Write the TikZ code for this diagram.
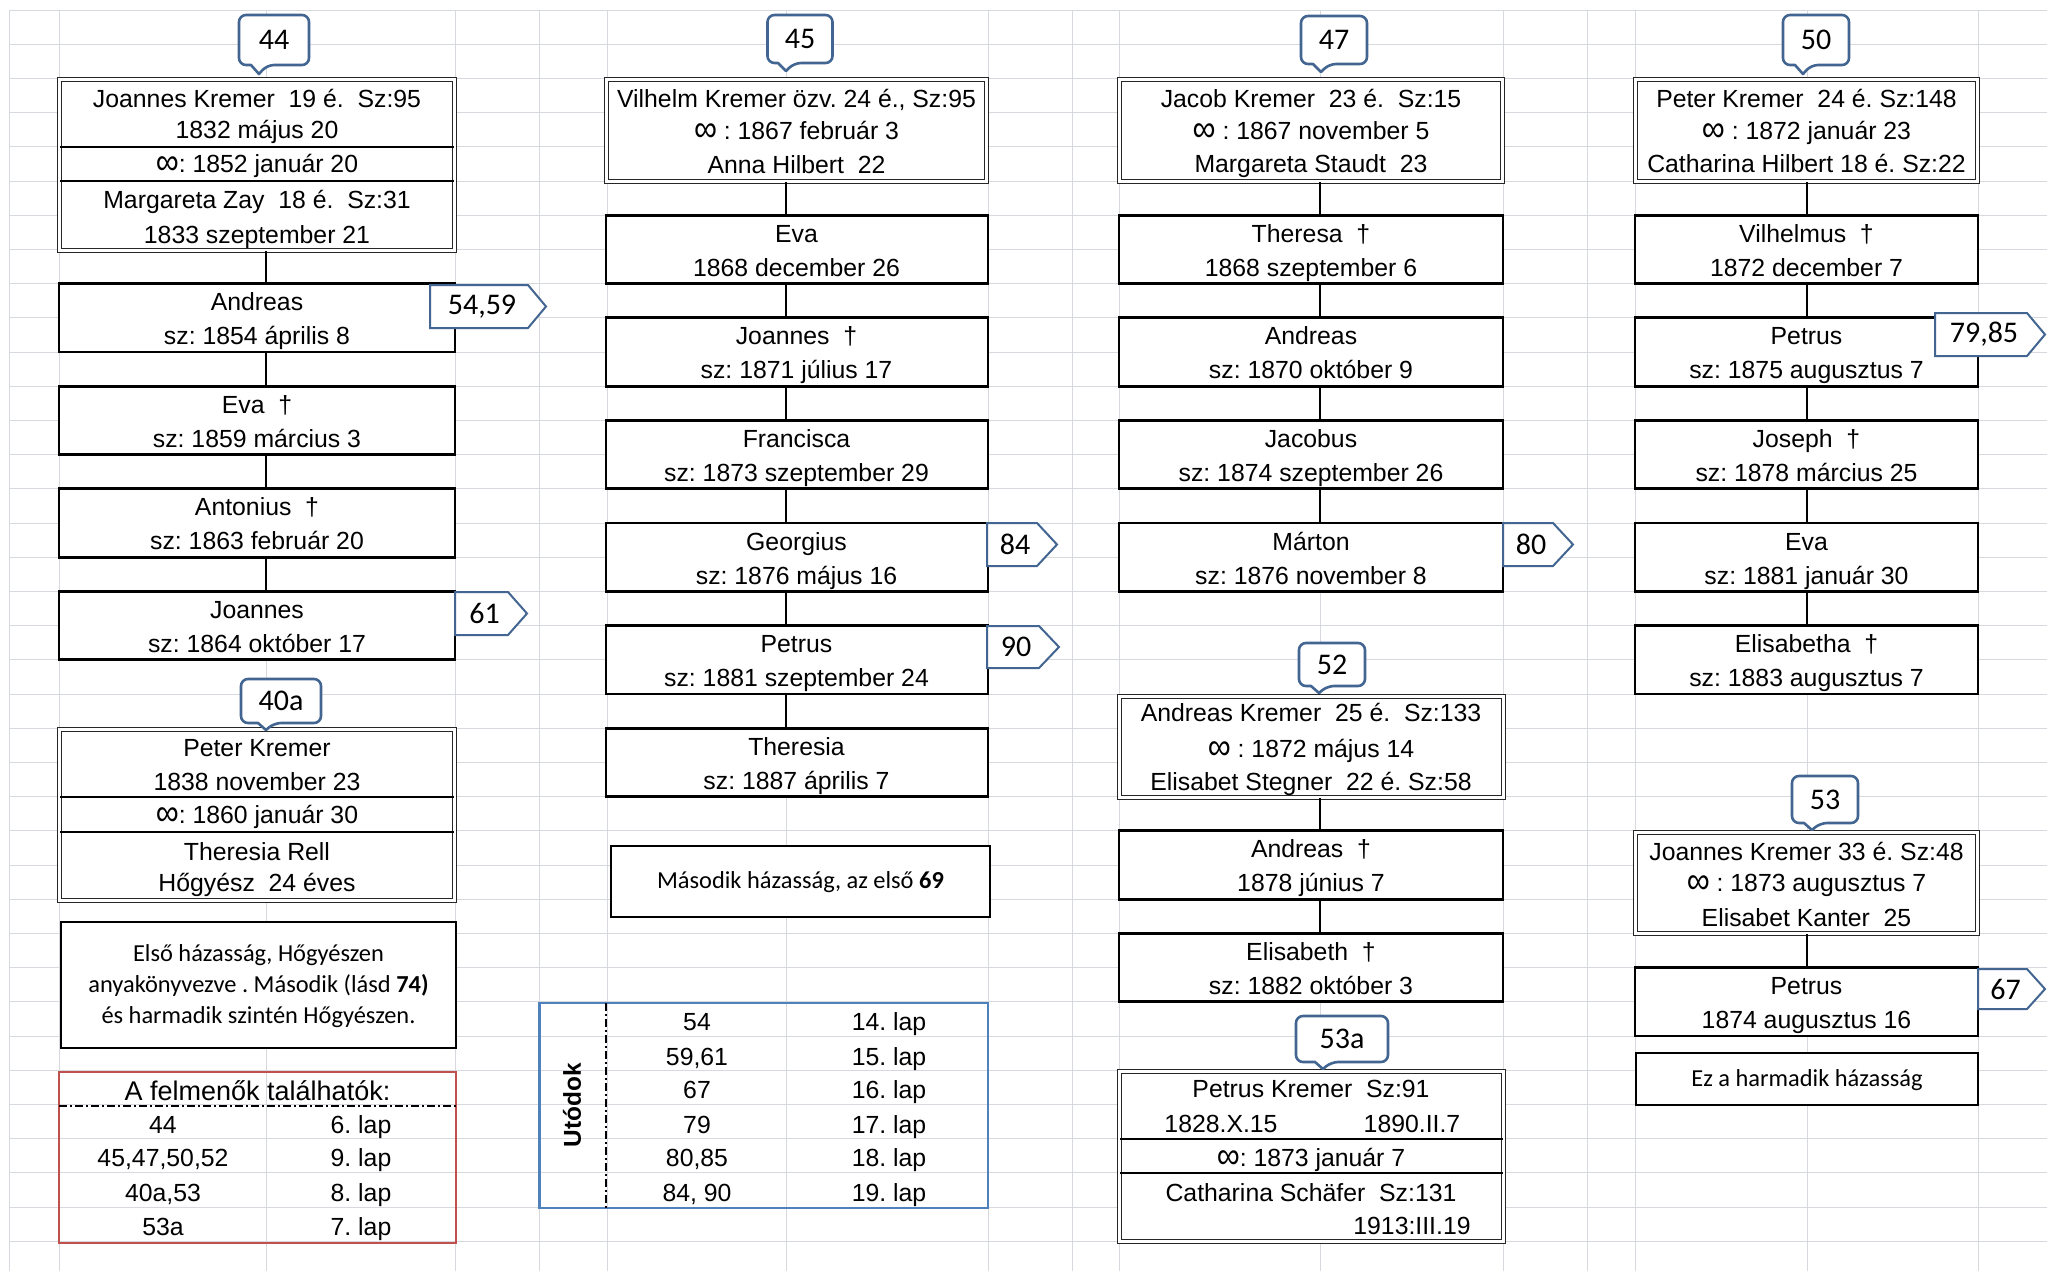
\documentclass[tikz,border=0pt]{standalone}
\usepackage{fontspec}
\usepackage{graphicx}
\setmainfont{Liberation Sans}
\newfontfamily\calfont{Carlito}
\usetikzlibrary{fit}
\definecolor{gridc}{RGB}{214,217,222}
\definecolor{callc}{RGB}{66,101,145}
\definecolor{tabblue}{RGB}{79,129,189}
\definecolor{tabred}{RGB}{192,80,77}
\newcommand\mainsz{\fontsize{12.4}{15}\selectfont}
\newcommand\numsz{\calfont\fontsize{15}{18}\selectfont}
\newcommand\notesz{\calfont\fontsize{12.2}{15.5}\selectfont}
\newcommand\mar{\raisebox{-0.12em}{\scalebox{1.3}[1.5]{∞}}}
\tikzset{
  gridline/.style={draw=gridc, line width=0.5pt},
  kidbox/.style={draw=black, line width=1.4pt, fill=white, inner sep=0pt},
  fambox/.style={draw=black!85, line width=0.5pt, double=white, double distance=1.1pt, fill=white, inner sep=0pt},
  divline/.style={draw=black, line width=1pt},
  conn/.style={draw=black, line width=1.25pt},
  txt/.style={anchor=base, inner sep=0pt, font=\mainsz},
  notebox/.style={draw=black, line width=1.4pt, fill=white, inner sep=0pt},
  notetxt/.style={align=center, inner sep=0pt, font=\notesz},
  callshape/.style={draw=callc, line width=1.3pt, fill=white, line join=round},
  tagshape/.style={draw=callc, line width=1pt, fill=white, line join=miter},
  numtxt/.style={inner sep=0pt, font=\numsz},
  redtab/.style={draw=tabred, line width=1.3pt, inner sep=0pt},
  bluetab/.style={draw=tabblue, line width=1.3pt, inner sep=0pt},
  dashdotline/.style={draw=black, dash pattern=on 4pt off 1.5pt on 1pt off 1.5pt},
}
% child box: name, x1, x2, top, text centre x, line 1, line 2
\newcommand\kid[7]{%
  \node[kidbox, fit={(#2,#4) (#3,#4+68.4)}] (#1) {};
  \node[txt] (#1a) at (#5,#4+27) {#6};
  \node[txt] (#1b) at (#5,#4+61) {#7};
}
% callout bubble: name, x1, y1, x2, y2, tip x, tip y, text
\newcommand\callbubble[8]{%
  \draw[callshape] ({(#2+#4)/2},#3) [rounded corners=3.5pt] -- (#4,#3) -- (#4,#5) -- (#6+8,#5) [sharp corners] -- (#6,#7) -- (#6-8,#5) [rounded corners=3.5pt] -- (#2,#5) -- (#2,#3) -- cycle;
  \node[numtxt] (#1) at ({(#2+#4)/2},{(#3+#5)/2}) {#8};
}
% pentagon tag: name, x1, y1, point start x, tip x, y2, text
\newcommand\tagm[7]{%
  \draw[tagshape] (#2,#3) -- (#4,#3) -- (#5,{(#3+#6)/2}) -- (#4,#6) -- (#2,#6) -- cycle;
  \node[numtxt] (#1) at ({(#2+#4)/2+3},{(#3+#6)/2}) {#7};
}
\begin{document}
\frenchspacing
\begin{tikzpicture}[x=0.5pt,y=-0.5pt]
\useasboundingbox (0,0) rectangle (2047,1271);
\fill[white] (0,0) rectangle (2047,1271);
% spreadsheet grid
\foreach \gx in {9,59,266,455,539,607,786,988,1072,1119,1320,1503,1587,1635,1807,1978}
  \draw[gridline] (\gx,10) -- (\gx,1271);
\foreach \k in {0,...,36}
  \draw[gridline] (9,{10+34.2*\k}) -- (2047,{10+34.2*\k});

\coordinate (xa) at (266,0);
\coordinate (xb) at (786,0);
\coordinate (xc) at (1320,0);
\coordinate (xd) at (1807,0);

% ---------- column 1 ----------
\node[fambox, fit={(59.5,79.5) (454.5,250.5)}] (f44) {};
\draw[divline] (60,147) -- (454,147);
\draw[divline] (60,181) -- (454,181);
\node[txt] (f44a) at (257,107) {Joannes Kremer~ 19 é.~ Sz:95};
\node[txt] (f44b) at (257,138) {1832 május 20};
\node[txt] (f44c) at (257,172) {\mar: 1852 január 20};
\node[txt] (f44d) at (257,208) {Margareta Zay~ 18 é.~ Sz:31};
\node[txt] (f44e) at (257,243) {1833 szeptember 21};
\kid{a1}{59}{455}{283.6}{257}{Andreas}{sz: 1854 április 8}
\kid{a2}{59}{455}{386.2}{257}{Eva~ †}{sz: 1859 március 3}
\kid{a3}{59}{455}{488.8}{257}{Antonius~ †}{sz: 1863 február 20}
\kid{a4}{59}{455}{591.4}{257}{Joannes}{sz: 1864 október 17}
\draw[conn] (f44.south -| xa) -- (a1.north -| xa);
\draw[conn] (a1.south -| xa) -- (a2.north -| xa);
\draw[conn] (a2.south -| xa) -- (a3.north -| xa);
\draw[conn] (a3.south -| xa) -- (a4.north -| xa);

\node[fambox, fit={(59.5,729.5) (454.5,900.5)}] (f40) {};
\draw[divline] (60,797) -- (454,797);
\draw[divline] (60,832) -- (454,832);
\node[txt] (f40a) at (257,756) {Peter Kremer};
\node[txt] (f40b) at (257,790) {1838 november 23};
\node[txt] (f40c) at (257,823) {\mar: 1860 január 30};
\node[txt] (f40d) at (257,860) {Theresia Rell};
\node[txt] (f40e) at (257,891) {Hőgyész~ 24 éves};

\node[notebox, fit={(61,922) (456,1048)}] (n1) {};
\node[notetxt] (n1t) at (258.5,986) {Első házasság, Hőgyészen\\anyakönyvezve . Második (lásd \textbf{74)}\\és harmadik szintén Hőgyészen.};

\node[redtab, fit={(59,1072) (456,1243)}] (ftab) {};
\draw[dashdotline, line width=0.7pt] (59,1106) -- (456,1106);
\node[txt, font=\fontsize{13.5}{16}\selectfont] (fhead) at (257.5,1100) {A felmenők találhatók:};
\node[txt] (fr1a) at (163,1133) {44};
\node[txt] (fr1b) at (361,1133) {6. lap};
\node[txt] (fr2a) at (163,1166) {45,47,50,52};
\node[txt] (fr2b) at (361,1166) {9. lap};
\node[txt] (fr3a) at (163,1201) {40a,53};
\node[txt] (fr3b) at (361,1201) {8. lap};
\node[txt] (fr4a) at (163,1235) {53a};
\node[txt] (fr4b) at (361,1235) {7. lap};

% ---------- column 2 ----------
\node[fambox, fit={(606.5,79.5) (986.5,181.5)}] (f45) {};
\node[txt] (f45a) at (796.5,107) {Vilhelm Kremer özv. 24 é., Sz:95};
\node[txt] (f45b) at (796.5,139) {\mar\ : 1867 február 3};
\node[txt] (f45c) at (796.5,173) {Anna Hilbert~ 22};
\kid{b1}{606}{988}{215.2}{796.5}{Eva}{1868 december 26}
\kid{b2}{606}{988}{317.8}{796.5}{Joannes~ †}{sz: 1871 július 17}
\kid{b3}{606}{988}{420.4}{796.5}{Francisca}{sz: 1873 szeptember 29}
\kid{b4}{606}{988}{523}{796.5}{Georgius}{sz: 1876 május 16}
\kid{b5}{606}{988}{625.6}{796.5}{Petrus}{sz: 1881 szeptember 24}
\kid{b6}{606}{988}{728.2}{796.5}{Theresia}{sz: 1887 április 7}
\draw[conn] (f45.south -| xb) -- (b1.north -| xb);
\draw[conn] (b1.south -| xb) -- (b2.north -| xb);
\draw[conn] (b2.south -| xb) -- (b3.north -| xb);
\draw[conn] (b3.south -| xb) -- (b4.north -| xb);
\draw[conn] (b4.south -| xb) -- (b5.north -| xb);
\draw[conn] (b5.south -| xb) -- (b6.north -| xb);

\node[notebox, fit={(611,846) (990,917)}] (n2) {};
\node[notetxt] (n2t) at (800.5,882) {Második házasság, az első \textbf{69}};

\node[bluetab, fit={(539.6,1003) (988,1208)}] (utab) {};
\draw[dashdotline, line width=1pt] (606,1003) -- (606,1208);
\node[rotate=90, inner sep=0pt, font=\bfseries\fontsize{12.2}{14}\selectfont] (utlab) at (572,1105) {Utódok};
\node[txt] (ur1a) at (697,1030) {54};
\node[txt] (ur1b) at (889,1030) {14. lap};
\node[txt] (ur2a) at (697,1065) {59,61};
\node[txt] (ur2b) at (889,1065) {15. lap};
\node[txt] (ur3a) at (697,1098) {67};
\node[txt] (ur3b) at (889,1098) {16. lap};
\node[txt] (ur4a) at (697,1133) {79};
\node[txt] (ur4b) at (889,1133) {17. lap};
\node[txt] (ur5a) at (697,1166) {80,85};
\node[txt] (ur5b) at (889,1166) {18. lap};
\node[txt] (ur6a) at (697,1201) {84, 90};
\node[txt] (ur6b) at (889,1201) {19. lap};

% ---------- column 3 ----------
\node[fambox, fit={(1119.5,79.5) (1502.5,181.5)}] (f47) {};
\node[txt] (f47a) at (1311,107) {Jacob Kremer~ 23 é.~ Sz:15};
\node[txt] (f47b) at (1311,139) {\mar\ : 1867 november 5};
\node[txt] (f47c) at (1311,172) {Margareta Staudt~ 23};
\kid{c1}{1119}{1503}{215.2}{1311}{Theresa~ †}{1868 szeptember 6}
\kid{c2}{1119}{1503}{317.8}{1311}{Andreas}{sz: 1870 október 9}
\kid{c3}{1119}{1503}{420.4}{1311}{Jacobus}{sz: 1874 szeptember 26}
\kid{c4}{1119}{1503}{523}{1311}{Márton}{sz: 1876 november 8}
\draw[conn] (f47.south -| xc) -- (c1.north -| xc);
\draw[conn] (c1.south -| xc) -- (c2.north -| xc);
\draw[conn] (c2.south -| xc) -- (c3.north -| xc);
\draw[conn] (c3.south -| xc) -- (c4.north -| xc);

\node[fambox, fit={(1119.5,696.5) (1503.5,797.5)}] (f52) {};
\node[txt] (f52a) at (1311,721) {Andreas Kremer~ 25 é.~ Sz:133};
\node[txt] (f52b) at (1311,757) {\mar\ : 1872 május 14};
\node[txt] (f52c) at (1311,790) {Elisabet Stegner~ 22 é. Sz:58};
\kid{e1}{1119}{1503}{830.8}{1311}{Andreas~ †}{1878 június 7}
\kid{e2}{1119}{1503}{933.4}{1311}{Elisabeth~ †}{sz: 1882 október 3}
\draw[conn] (f52.south -| xc) -- (e1.north -| xc);
\draw[conn] (e1.south -| xc) -- (e2.north -| xc);

\node[fambox, fit={(1119.5,1071.5) (1503.5,1241.5)}] (f53a) {};
\draw[divline] (1120,1139) -- (1503,1139);
\draw[divline] (1120,1173) -- (1503,1173);
\node[txt] (f53aa) at (1311,1097) {Petrus Kremer~ Sz:91};
\node[txt] (f53ab) at (1221,1132) {1828.X.15};
\node[txt] (f53ac) at (1412,1132) {1890.II.7};
\node[txt] (f53ad) at (1311,1166) {\mar: 1873 január 7};
\node[txt] (f53ae) at (1311,1201) {Catharina Schäfer~ Sz:131};
\node[txt] (f53af) at (1412,1234) {1913:III.19};

% ---------- column 4 ----------
\node[fambox, fit={(1635.5,79.5) (1977.5,181.5)}] (f50) {};
\node[txt] (f50a) at (1806.5,107) {Peter Kremer~ 24 é. Sz:148};
\node[txt] (f50b) at (1806.5,139) {\mar\ : 1872 január 23};
\node[txt] (f50c) at (1806.5,172) {Catharina Hilbert 18 é. Sz:22};
\kid{d1}{1635}{1978}{215.2}{1806.5}{Vilhelmus~ †}{1872 december 7}
\kid{d2}{1635}{1978}{317.8}{1806.5}{Petrus}{sz: 1875 augusztus 7}
\kid{d3}{1635}{1978}{420.4}{1806.5}{Joseph~ †}{sz: 1878 március 25}
\kid{d4}{1635}{1978}{523}{1806.5}{Eva}{sz: 1881 január 30}
\kid{d5}{1635}{1978}{625.6}{1806.5}{Elisabetha~ †}{sz: 1883 augusztus 7}
\draw[conn] (f50.south -| xd) -- (d1.north -| xd);
\draw[conn] (d1.south -| xd) -- (d2.north -| xd);
\draw[conn] (d2.south -| xd) -- (d3.north -| xd);
\draw[conn] (d3.south -| xd) -- (d4.north -| xd);
\draw[conn] (d4.south -| xd) -- (d5.north -| xd);

\node[fambox, fit={(1635.5,832.5) (1977.5,933.5)}] (f53) {};
\node[txt] (f53a) at (1806.5,860) {Joannes Kremer 33 é. Sz:48};
\node[txt] (f53b) at (1806.5,891) {\mar\ : 1873 augusztus 7};
\node[txt] (f53c) at (1806.5,926) {Elisabet Kanter~ 25};
\kid{g1}{1635}{1978}{967.6}{1806.5}{Petrus}{1874 augusztus 16}
\draw[conn] (f53.south -| xd) -- (g1.north -| xd);

\node[notebox, fit={(1636,1053) (1978,1105)}] (n3) {};
\node[notetxt] (n3t) at (1807,1080) {Ez a harmadik házasság};

% ---------- callouts ----------
\callbubble{c44}{239}{15}{309}{65}{259}{74}{44}
\callbubble{c45}{767.5}{15}{832.5}{63}{786}{71}{45}
\callbubble{c47}{1301}{16}{1367}{64}{1321}{72}{47}
\callbubble{c50}{1783}{15}{1849}{65}{1803}{74}{50}
\callbubble{c40a}{241}{679}{321}{723}{266}{730}{40a}
\callbubble{c52}{1299}{643}{1365}{686}{1319}{693}{52}
\callbubble{c53a}{1296}{1016}{1388}{1062}{1323}{1069}{53a}
\callbubble{c53}{1792}{776}{1858}{823}{1812}{830}{53}

% ---------- reference tags ----------
\tagm{t5459}{430}{285}{528}{546}{328}{54,59}
\tagm{t61}{455}{592}{508}{527}{635}{61}
\tagm{t84}{987}{523}{1037}{1057}{566}{84}
\tagm{t90}{987}{626}{1039}{1059}{668}{90}
\tagm{t80}{1503}{523}{1553}{1573}{566}{80}
\tagm{t7985}{1935}{313}{2027}{2045}{356}{79,85}
\tagm{t67}{1978}{969}{2027}{2045}{1009}{67}
\end{tikzpicture}
\end{document}
